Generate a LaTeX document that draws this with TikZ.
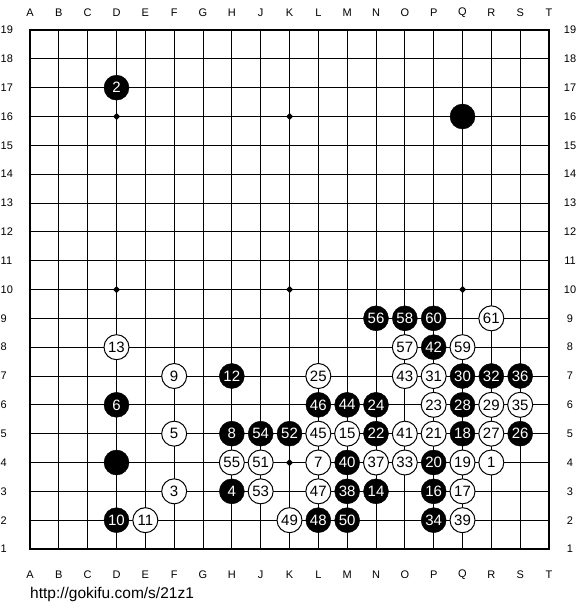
\documentclass[tikz,border=0pt]{standalone}
\usepackage{fontspec}
\setmainfont{Liberation Sans}
\begin{document}
\begin{tikzpicture}[x=1pt,y=-1pt,
  stonebase/.style={circle,minimum size=25pt,inner sep=0pt,font=\fontsize{15}{15}\selectfont},
  bstone/.style={stonebase,fill=black,draw=black,text=white},
  wstone/.style={stonebase,fill=white,draw=black,line width=1pt,text=black},
  lbl/.style={font=\fontsize{11}{11}\selectfont,inner sep=0pt},
  gridline/.style={line width=1pt,black},
  borderline/.style={line width=2pt,black}]
\def\S{28.8333}
\fill[white] (0,0) rectangle (580,610);
\useasboundingbox (0,0) rectangle (580,610);
% grid
\foreach \i in {1,...,17}{
  \draw[gridline] ({30+\i*\S},30) -- ({30+\i*\S},549);
  \draw[gridline] (30,{30+\i*\S}) -- (549,{30+\i*\S});
}
\draw[borderline] (30,30) rectangle (549,549);
% hoshi
\foreach \c/\r in {3/16,9/16,3/10,9/10,15/10,9/4}{
  \fill ({30+\c*\S},{30+(19-\r)*\S}) +(-3.5,0) -- +(0,-3.5) -- +(3.5,0) -- +(0,3.5) -- cycle;
}
% coordinates
\foreach \l [count=\i from 0] in {A,B,C,D,E,F,G,H,J,K,L,M,N,O,P,Q,R,S,T}{
  \node[lbl] (top\l) at ({30+\i*\S},13) {\l};
  \node[lbl] (bot\l) at ({30+\i*\S},575) {\l};
}
\foreach \r in {1,...,19}{
  \node[lbl,anchor=west] (left\r) at (0.5,{30+(19-\r)*\S}) {\r};
  \node[lbl] (right\r) at (570,{30+(19-\r)*\S}) {\r};
}
% unnumbered black stones
\node[bstone] (bQ16) at ({30+15*\S},{30+3*\S}) {};
\node[bstone] (bD4) at ({30+3*\S},{30+15*\S}) {};
% black stones
\foreach \c/\r/\n in {3/17/2,7/3/4,3/6/6,7/5/8,3/2/10,7/7/12,12/3/14,14/3/16,15/5/18,14/4/20,
  12/5/22,12/6/24,17/5/26,15/6/28,15/7/30,16/7/32,14/2/34,17/7/36,11/3/38,11/4/40,
  14/8/42,11/6/44,10/6/46,10/2/48,11/2/50,9/5/52,8/5/54,12/9/56,13/9/58,14/9/60}{
  \node[bstone] (b\n) at ({30+\c*\S},{30+(19-\r)*\S}) {\n};
}
% white stones
\foreach \c/\r/\n in {16/4/1,5/3/3,5/5/5,10/4/7,5/7/9,4/2/11,3/8/13,11/5/15,15/3/17,15/4/19,
  14/5/21,14/6/23,10/7/25,16/5/27,16/6/29,14/7/31,13/4/33,17/6/35,12/4/37,15/2/39,
  13/5/41,13/7/43,10/5/45,10/3/47,9/2/49,8/4/51,8/3/53,7/4/55,13/8/57,15/8/59,16/9/61}{
  \node[wstone] (w\n) at ({30+\c*\S},{30+(19-\r)*\S}) {\n};
}
% url
\node[anchor=base west,inner sep=0pt,font=\fontsize{15.5}{15.5}\selectfont] (url) at (30,598) {http://gokifu.com/s/21z1};
\end{tikzpicture}
\end{document}
